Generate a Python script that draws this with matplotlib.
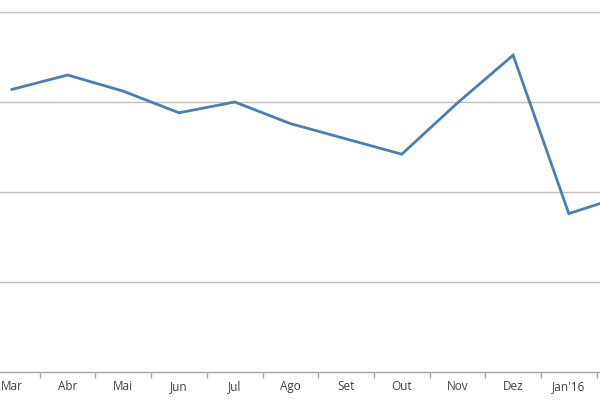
import numpy as np
import matplotlib
matplotlib.use("Agg")
import matplotlib.pyplot as plt

# Meses e valores (unidades = espaçamento da grade)
meses = ['Mar', 'Abr', 'Mai', 'Jun', 'Jul', 'Ago', 'Set', 'Out', 'Nov', 'Dez', "Jan'16", 'Fev']
valores = [3.14, 3.30, 3.12, 2.88, 3.00, 2.76, 2.59, 2.42, 2.99, 3.52, 1.76, 1.96]
grade_y = [0, 1, 2, 3, 4]

fig = plt.figure(figsize=(6, 4), dpi=100)
ax = fig.add_axes([0, 0.07, 1, 0.91125])

x = np.arange(len(meses))
ax.plot(x, valores, color='#4a7ebb', linewidth=2.0, solid_joinstyle='miter')

# grade horizontal
ax.set_yticks(grade_y[1:])
ax.yaxis.grid(True, color='#bfbfbf', linewidth=1.0)
ax.tick_params(axis='y', left=False, labelleft=False)
ax.set_axisbelow(True)

# ticks nos limites das categorias, rótulos no centro
ax.set_xticks(x[:-1] + 0.5)
ax.set_xticklabels([])
ax.set_xticks(x, minor=True)
ax.set_xticklabels(meses, minor=True, fontsize=8.5, color='#404040', family='Open Sans')
ax.tick_params(axis='x', which='major', direction='out', length=4, color='#a6a6a6', width=1)
ax.tick_params(axis='x', which='minor', length=0, pad=6)

# limites depois dos ticks (set_xticks expande a vista)
ax.set_xlim(-0.215, 10.56)
ax.set_ylim(0, 4.05)

for s in ['top', 'right', 'left']:
    ax.spines[s].set_visible(False)
ax.spines['bottom'].set_color('#a6a6a6')
ax.spines['bottom'].set_linewidth(1)

fig.savefig('out.png', dpi=100)
